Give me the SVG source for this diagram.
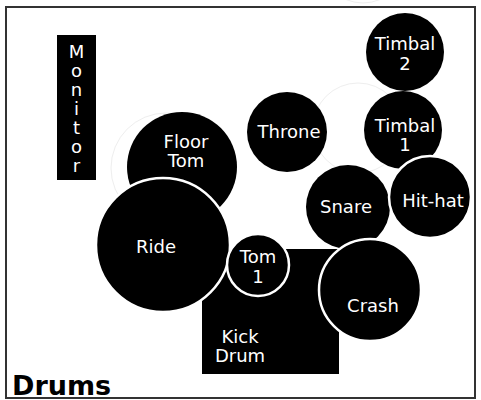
<svg xmlns="http://www.w3.org/2000/svg" width="481" height="400" viewBox="0 0 481 400">
<style>
.bg{fill:#fff}
.frame{fill:none;stroke:#333;stroke-width:2}
.ghost{fill:none;stroke:#eee;stroke-width:1}
.d{fill:#000}
.ring{fill:#000;stroke:#fff;stroke-width:2.5}
.t{font-family:"DejaVu Sans","Verdana",sans-serif;font-size:18px;fill:#fff;text-anchor:middle}
.title{font-family:"DejaVu Sans","Verdana",sans-serif;font-size:27px;font-weight:bold;fill:#000}
</style>
<rect class="bg" x="0" y="0" width="481" height="400"/>
<g id="ghosts">
<circle class="ghost" cx="166" cy="168" r="55"/>
<circle class="ghost" cx="358" cy="128" r="45"/>
<circle class="ghost" cx="363" cy="-40" r="43"/>
</g>
<rect class="frame" x="6" y="7" width="469" height="391"/>
<g id="monitor">
<rect class="d" x="57" y="35" width="39" height="145"/>
<text class="t" x="76.5" y="58">M</text>
<text class="t" x="76.5" y="77">o</text>
<text class="t" x="76.5" y="96">n</text>
<text class="t" x="76.5" y="115">i</text>
<text class="t" x="76.5" y="134">t</text>
<text class="t" x="76.5" y="153">o</text>
<text class="t" x="76.5" y="172">r</text>
</g>
<g id="kick-drum">
<rect class="d" x="202" y="249" width="137" height="125"/>
<text class="t" x="240" y="343">Kick</text>
<text class="t" x="240" y="362">Drum</text>
</g>
<g id="floor-tom">
<circle class="d" cx="182" cy="167" r="55"/>
<text class="t" x="186" y="148">Floor</text>
<text class="t" x="186" y="167">Tom</text>
</g>
<g id="ride">
<circle class="ring" cx="163" cy="245" r="67"/>
<text class="t" x="156" y="253">Ride</text>
</g>
<g id="tom-1">
<circle class="ring" cx="258" cy="265" r="31"/>
<text class="t" x="258" y="263">Tom</text>
<text class="t" x="258" y="283">1</text>
</g>
<g id="timbal-2">
<circle class="d" cx="405" cy="52" r="39"/>
<text class="t" x="405" y="50">Timbal</text>
<text class="t" x="405" y="70">2</text>
</g>
<g id="timbal-1">
<circle class="d" cx="403" cy="130" r="39"/>
<text class="t" x="405" y="132">Timbal</text>
<text class="t" x="405" y="151">1</text>
</g>
<g id="throne">
<circle class="d" cx="287" cy="132" r="40"/>
<text class="t" x="289" y="138">Throne</text>
</g>
<g id="snare">
<circle class="d" cx="348" cy="207" r="42"/>
<text class="t" x="346" y="213">Snare</text>
</g>
<g id="hit-hat">
<circle class="ring" cx="430" cy="197" r="41"/>
<text class="t" x="433" y="207">Hit-hat</text>
</g>
<g id="crash">
<circle class="ring" cx="370" cy="290" r="51"/>
<text class="t" x="373" y="312">Crash</text>
</g>
<g id="connectors"></g>
<text class="title" x="12" y="395">Drums</text>
</svg>
